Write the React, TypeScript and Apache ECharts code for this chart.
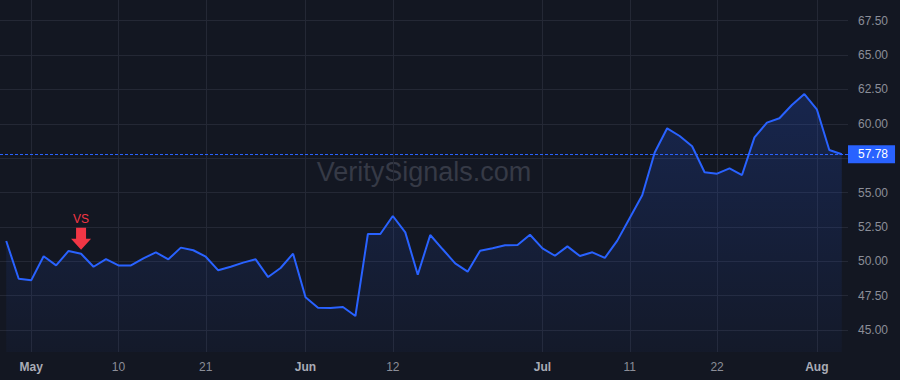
import React, { useEffect, useRef } from "react";
import * as echarts from "echarts";

const dates = [
  "2024-04-29", "2024-04-30", "2024-05-01", "2024-05-02", "2024-05-03", "2024-05-06", "2024-05-07", "2024-05-08",
  "2024-05-09", "2024-05-10", "2024-05-13", "2024-05-14", "2024-05-15", "2024-05-16", "2024-05-17", "2024-05-20",
  "2024-05-21", "2024-05-22", "2024-05-23", "2024-05-24", "2024-05-28", "2024-05-29", "2024-05-30", "2024-05-31",
  "2024-06-03", "2024-06-04", "2024-06-05", "2024-06-06", "2024-06-07", "2024-06-10", "2024-06-11", "2024-06-12",
  "2024-06-13", "2024-06-14", "2024-06-17", "2024-06-18", "2024-06-20", "2024-06-21", "2024-06-24", "2024-06-25",
  "2024-06-26", "2024-06-27", "2024-06-28", "2024-07-01", "2024-07-02", "2024-07-03", "2024-07-05", "2024-07-08",
  "2024-07-09", "2024-07-10", "2024-07-11", "2024-07-12", "2024-07-15", "2024-07-16", "2024-07-17", "2024-07-18",
  "2024-07-19", "2024-07-22", "2024-07-23", "2024-07-24", "2024-07-25", "2024-07-26", "2024-07-29", "2024-07-30",
  "2024-07-31", "2024-08-01", "2024-08-02", "2024-08-05",
];

const values = [
  51.47, 48.73, 48.61, 50.36, 49.7, 50.75, 50.55, 49.6,
  50.16, 49.7, 49.7, 50.21, 50.65, 50.14, 50.99, 50.8,
  50.33, 49.34, 49.6, 49.9, 50.14, 48.85, 49.51, 50.55,
  47.38, 46.62, 46.6, 46.67, 46.02, 51.98, 51.98, 53.29,
  52.1, 49.02, 51.91, 50.87, 49.85, 49.24, 50.77, 50.94,
  51.16, 51.18, 51.93, 50.94, 50.4, 51.08, 50.38, 50.65,
  50.24, 51.5, 53.15, 54.8, 57.91, 59.67, 59.11, 58.36,
  56.47, 56.37, 56.76, 56.27, 59.01, 60.08, 60.4, 61.36,
  62.16, 61.05, 58.09, 57.78,
];

const xTickDates = ["2024-05-01", "2024-05-10", "2024-05-21", "2024-06-03", "2024-06-12", "2024-07-01", "2024-07-11", "2024-07-22", "2024-08-01"];
const xTickLabels = ["May", "10", "21", "Jun", "12", "Jul", "11", "22", "Aug"];
const yTicks = [45, 47.5, 50, 52.5, 55, 57.5, 60, 62.5, 65, 67.5];
const lastPrice = 57.78;
const signalDate = "2024-05-07";
const signalText = "VS";
const watermark = "VeritySignals.com";

const FONT = "'Liberation Sans', Arial, sans-serif";

export default function App() {
  const ref = useRef<HTMLDivElement>(null);

  useEffect(() => {
    document.body.style.margin = "0";
    document.body.style.background = "#131722";
    const chart = echarts.init(ref.current!, null, { renderer: "svg" });
    const tickMap = new Map<number, string>();
    xTickDates.forEach((d, i) => tickMap.set(dates.indexOf(d), xTickLabels[i]));
    const showTick = (i: number) => tickMap.has(i);
    const sigIdx = dates.indexOf(signalDate);
    // the last-price badge hides the axis label it covers
    const yLabelValues = yTicks.filter((v) => Math.abs(v - lastPrice) > 0.7);

    chart.setOption({
      animation: false,
      backgroundColor: "#131722",
      textStyle: { fontFamily: FONT },
      grid: { left: 0, right: 52, top: 0, bottom: 28 },
      xAxis: {
        type: "category",
        data: dates,
        boundaryGap: true,
        axisLine: { show: false },
        axisTick: { show: false },
        axisLabel: {
          interval: (i: number) => showTick(i),
          margin: 9,
          formatter: (_v: string, i: number) => {
            const t = tickMap.get(i) || "";
            return isNaN(Number(t)) ? `{m|${t}}` : `{d|${t}}`;
          },
          rich: {
            m: { fontWeight: "bold", color: "#a9acb6", fontSize: 12, fontFamily: FONT },
            d: { color: "#8b8e98", fontSize: 12, fontFamily: FONT },
          },
        },
        splitLine: {
          show: true,
          interval: (i: number) => showTick(i),
          alignWithLabel: true,
          lineStyle: { color: "#242835", width: 1 },
        },
      },
      yAxis: {
        type: "value",
        position: "right",
        min: 43.4,
        max: 69,
        axisLine: { show: false },
        axisTick: { show: false, customValues: yTicks },
        axisLabel: {
          customValues: yLabelValues,
          formatter: (v: number) => v.toFixed(2),
          color: "#8b8e98",
          fontSize: 12,
          margin: 10,
        },
        splitLine: { show: true, lineStyle: { color: "#242835", width: 1 } },
      },
      graphic: [
        {
          type: "text",
          x: 424,
          y: 172,
          z: 0,
          silent: true,
          style: {
            text: watermark,
            fill: "#363a46",
            font: `27px ${FONT}`,
            textAlign: "center",
            textVerticalAlign: "middle",
          },
        },
      ],
      series: [
        {
          type: "line",
          data: values,
          symbol: "none",
          z: 3,
          lineStyle: { color: "#2962ff", width: 2 },
          itemStyle: { color: "#2962ff" },
          areaStyle: {
            color: new echarts.graphic.LinearGradient(0, 0, 0, 1, [
              { offset: 0, color: "rgba(41,98,255,0.28)" },
              { offset: 1, color: "rgba(41,98,255,0.05)" },
            ]),
          },
          markLine: {
            silent: true,
            symbol: ["none", "none"],
            data: [{ yAxis: lastPrice }],
            lineStyle: { color: "#2962ff", type: [3, 2], width: 1 },
            label: {
              position: "end",
              distance: 0,
              formatter: lastPrice.toFixed(2),
              color: "#ffffff",
              backgroundColor: "#2962ff",
              padding: [3, 7, 3, 10],
              fontSize: 12,
              lineHeight: 12,
              fontFamily: FONT,
            },
          },
          markPoint: {
            silent: true,
            data: [
              {
                coord: [signalDate, values[sigIdx]],
                symbol: "path://M5,0 L15,0 L15,11 L20,11 L10,22 L0,11 L5,11 Z",
                symbolSize: [20, 22],
                symbolOffset: [0, -15],
                itemStyle: { color: "#f23645" },
                label: {
                  show: true,
                  position: "top",
                  distance: 3,
                  formatter: signalText,
                  color: "#f23645",
                  fontSize: 12,
                  fontFamily: FONT,
                },
              },
            ],
          },
        },
      ],
    });
    return () => chart.dispose();
  }, []);

  return (
    <div
      ref={ref}
      style={{ position: "absolute", left: 0, top: 0, width: 900, height: 380, background: "#131722" }}
    />
  );
}
